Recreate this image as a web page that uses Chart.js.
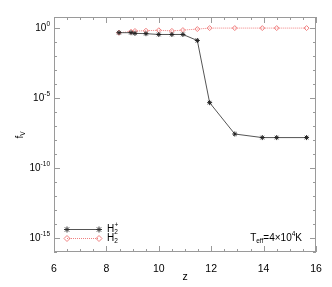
<!DOCTYPE html>
<html>
<head>
<meta charset="utf-8">
<script src="https://cdn.jsdelivr.net/npm/chart.js@4"></script>
<style>
html, body { margin: 0; padding: 0; background: #fff; }
#wrap { width: 332px; height: 287px; }
</style>
</head>
<body>
<div id="wrap"><canvas id="fvChart" width="332" height="287"></canvas></div>
<script>
const redshifts = [8.48, 8.94, 9.09, 9.51, 10.0, 10.5, 10.92, 11.47, 11.94, 12.9, 13.95, 14.5, 15.64];
const h2plusFv = [0.47, 0.47, 0.42, 0.4, 0.35, 0.35, 0.35, 0.13, 4.7e-6, 2.7e-8, 1.5e-8, 1.5e-8, 1.5e-8];
const h2Fv = [0.47, 0.55, 0.62, 0.65, 0.7, 0.63, 0.72, 0.85, 1.0, 1.0, 1.0, 1.0, 1.0];
const xTicks = [6, 8, 10, 12, 14, 16];
const yTickExps = [0, -5, -10, -15];

const FONT = "'Liberation Sans', Arial, sans-serif";
const AXIS = "#9a9a9a";
const RED = "#f08080";

function pts(ys) {
    return redshifts.map((z, i) => ({ x: z, y: ys[i] }));
}

// text with optional sub/superscript pieces: [[text, mode]]
function drawRich(ctx, parts, x, y, size, align) {
    let w = 0;
    parts.forEach(p => {
        ctx.font = (p[1] ? size * 0.65 : size) + "px " + FONT;
        w += ctx.measureText(p[0]).width;
    });
    let cx = align === "right" ? x - w : x;
    parts.forEach(p => {
        const s = p[1] ? size * 0.65 : size;
        ctx.font = s + "px " + FONT;
        let dy = 0;
        if (p[1] === "sup") dy = -size * 0.4;
        if (p[1] === "sub") dy = size * 0.3;
        ctx.fillText(p[0], cx, y + dy);
        cx += ctx.measureText(p[0]).width;
    });
}

const framePlugin = {
    id: "frame",
    afterDraw(chart) {
        const ctx = chart.ctx;
        const a = chart.chartArea;
        const xs = chart.scales.x, ys = chart.scales.y;
        ctx.save();
        ctx.strokeStyle = AXIS;
        ctx.lineWidth = 1;
        ctx.strokeRect(a.left + 0.5, a.top + 0.5, a.right - a.left - 1, a.bottom - a.top - 1);
        ctx.beginPath();
        for (let v = 6; v <= 16; v += 0.5) {
            const px = Math.round(xs.getPixelForValue(v)) + 0.5;
            const len = (v % 2 === 0) ? 6 : 3;
            ctx.moveTo(px, a.bottom); ctx.lineTo(px, a.bottom - len);
            ctx.moveTo(px, a.top); ctx.lineTo(px, a.top + len);
        }
        for (let e = -16; e <= 0; e++) {
            const py = Math.round(ys.getPixelForValue(Math.pow(10, e))) + 0.5;
            const len = (e % 5 === 0) ? 6 : 3;
            ctx.moveTo(a.left, py); ctx.lineTo(a.left + len, py);
            ctx.moveTo(a.right, py); ctx.lineTo(a.right - len, py);
        }
        ctx.stroke();

        // y tick labels
        ctx.fillStyle = "#000";
        ctx.textBaseline = "middle";
        ctx.textAlign = "left";
        yTickExps.forEach(e => {
            const py = ys.getPixelForValue(Math.pow(10, e));
            drawRich(ctx, [["10", null], [String(e), "sup"]], a.left - 4, py, 10, "right");
        });

        // y title
        ctx.save();
        ctx.translate(20, (a.top + a.bottom) / 2);
        ctx.rotate(-Math.PI / 2);
        drawRich(ctx, [["f", null], ["V", "sub"]], -4, 0, 10, "left");
        ctx.restore();

        // legend
        const lx0 = 67, lx1 = 99;
        ctx.setLineDash([]);
        ctx.strokeStyle = "#555";
        ctx.beginPath(); ctx.moveTo(lx0, 229.5); ctx.lineTo(lx1, 229.5); ctx.stroke();
        ctx.fillStyle = "#333";
        ctx.strokeStyle = "#333";
        [lx0, lx1].forEach(px => {
            Chart.helpers.drawPoint(ctx, { pointStyle: "star", radius: 3, borderWidth: 1 }, px, 229.5);
        });
        ctx.strokeStyle = RED;
        ctx.setLineDash([1, 1]);
        ctx.beginPath(); ctx.moveTo(lx0, 238.5); ctx.lineTo(lx1, 238.5); ctx.stroke();
        ctx.setLineDash([]);
        ctx.fillStyle = "rgba(0,0,0,0)";
        [lx0, lx1].forEach(px => {
            Chart.helpers.drawPoint(ctx, { pointStyle: "rectRot", radius: 3, borderWidth: 1 }, px, 238.5);
        });
        ctx.fillStyle = "#000";
        drawRich(ctx, [["H", null], ["2", "sub"]], 107, 229, 10, "left");
        ctx.font = 6.5 + "px " + FONT;
        ctx.fillText("+", 114.5, 225.5);
        drawRich(ctx, [["H", null], ["2", "sub"]], 107, 238.5, 10, "left");

        // annotation
        drawRich(ctx, [["T", null], ["eff", "sub"], ["=4\u00d710", null], ["4", "sup"], ["K", null]], 302, 238, 10, "right");
        ctx.restore();
    }
};

const config = {
    type: "line",
    data: {
        datasets: [{
            label: "H2+",
            data: pts(h2plusFv),
            borderColor: "#555",
            backgroundColor: "#555",
            borderWidth: 1,
            pointStyle: "star",
            pointRadius: 2.5,
            pointBorderColor: "#222",
            pointBorderWidth: 1,
            tension: 0
        }, {
            label: "H2",
            data: pts(h2Fv),
            borderColor: RED,
            borderWidth: 1,
            borderDash: [1, 1],
            pointStyle: "rectRot",
            pointRadius: 2.5,
            pointBorderColor: RED,
            pointBackgroundColor: "rgba(0,0,0,0)",
            pointBorderWidth: 1,
            tension: 0
        }]
    },
    options: {
        responsive: false,
        animation: false,
        layout: { padding: { top: 17, right: 16, left: 0, bottom: 0 } },
        plugins: { legend: { display: false }, tooltip: { enabled: false } },
        scales: {
            x: {
                type: "linear",
                min: 6, max: 16,
                afterBuildTicks: s => { s.ticks = xTicks.map(v => ({ value: v })); },
                afterFit: s => { s.height = 35; },
                grid: { display: false },
                border: { display: false },
                ticks: { color: "#000", font: { family: FONT, size: 10.5 }, padding: 3, maxRotation: 0 },
                title: { display: true, text: "z", color: "#000", font: { family: FONT, size: 10.5 }, padding: { top: 0 } }
            },
            y: {
                type: "logarithmic",
                min: 1e-16, max: 6.2,
                afterFit: s => { s.width = 54; },
                grid: { display: false },
                border: { display: false },
                ticks: { display: false }
            }
        }
    },
    plugins: [framePlugin]
};

new Chart(document.getElementById("fvChart"), config);
</script>
</body>
</html>
